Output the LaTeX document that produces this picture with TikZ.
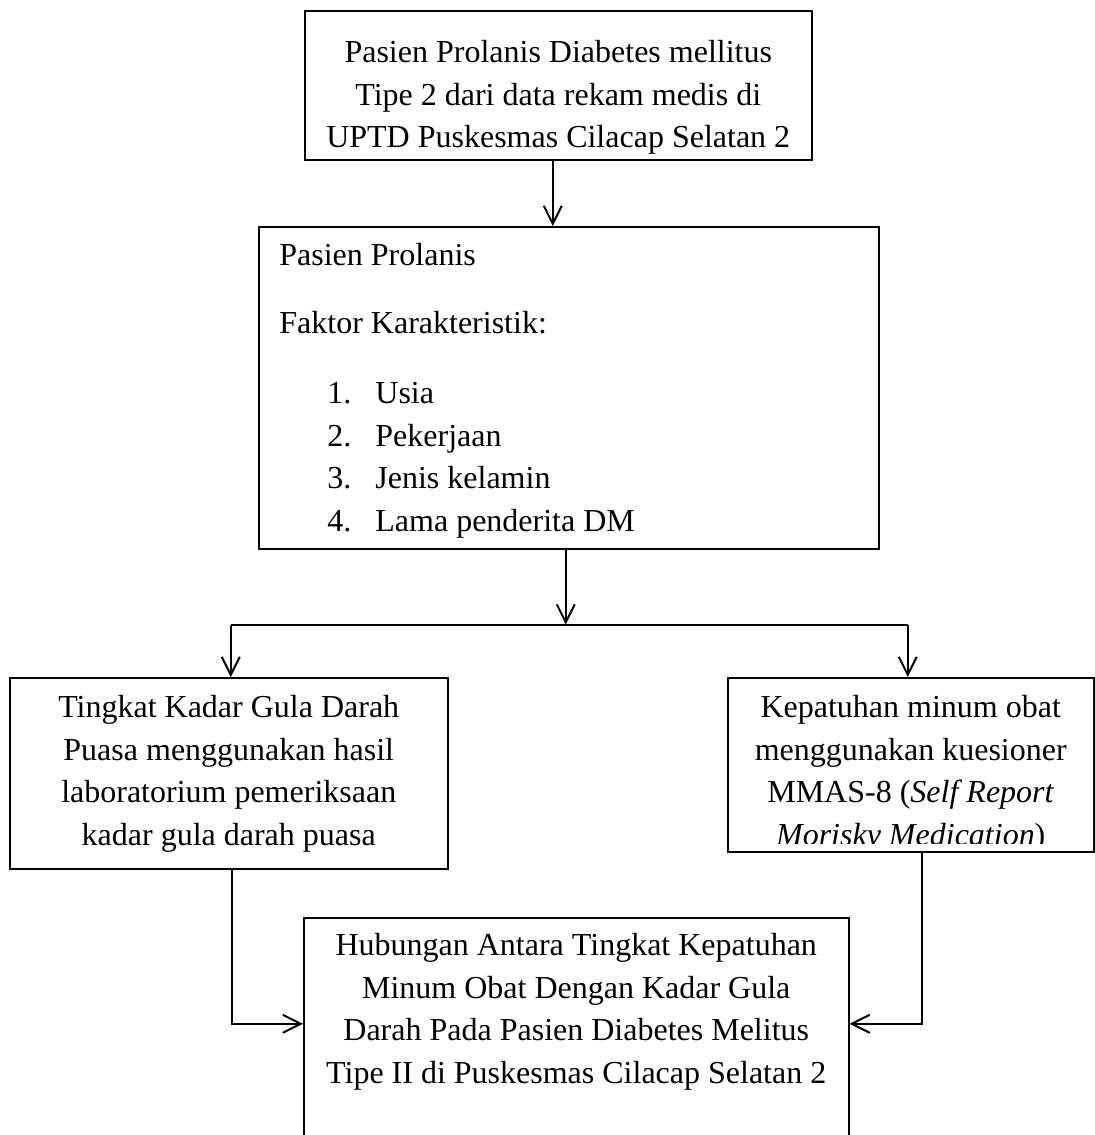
\documentclass[tikz,border=0pt]{standalone}
\usepackage{fontspec}
\setmainfont{Liberation Serif}
\usetikzlibrary{positioning}
\usetikzlibrary{arrows.meta}
\tikzset{
    % Open arrow heads, as drawn by the word processor
    >={Straight Barb[length=9pt,width=9pt]},
%
    % Plain outlined box, sized by hand
    plain box/.style={draw, line width=0.75pt, inner sep=0, anchor=north west},
%
    % Body text inside the boxes
    box text/.style={inner sep=0, font=\fontsize{16pt}{21.25pt}\selectfont},
%
    % Connecting lines between the boxes
    flow line/.style={line width=1pt}}

\newcommand{\faktoritem}[2]{\hspace*{24pt}\makebox[24pt][l]{#1.}#2}

\begin{document}
\begin{tikzpicture}[x=0.5pt, y=-0.5pt]

\clip (0,0) rectangle (1095,1135);

% Boxes

\node [plain box, minimum width=253.5pt, minimum height=74.5pt] (title) at (304,10) {};
\node [plain box, minimum width=310pt, minimum height=161pt] (char) at (258,226) {};
\node [plain box, minimum width=219pt, minimum height=95.5pt] (gula) at (9,677) {};
\node [plain box, minimum width=183pt, minimum height=87pt] (patuh) at (727,677) {};
\node [plain box, minimum width=272.5pt, minimum height=110pt] (hubungan) at (303,917) {};

% Texts

\node [box text, align=center, below=15pt of title.north] (titletext) {
    Pasien Prolanis Diabetes mellitus\\
    Tipe 2 dari data rekam medis di\\
    UPTD Puskesmas Cilacap Selatan 2};

\node [box text, align=left, below right=8.5pt and 10.5pt of char.north west] (chartext) {
    Pasien Prolanis\\[12.75pt]
    Faktor Karakteristik:\\[13.75pt]
    \faktoritem{1}{Usia}\\
    \faktoritem{2}{Pekerjaan}\\
    \faktoritem{3}{Jenis kelamin}\\
    \faktoritem{4}{Lama penderita DM}};

\node [box text, align=center, below=9pt of gula.north] (gulatext) {
    Tingkat Kadar Gula Darah\\
    Puasa menggunakan hasil\\
    laboratorium pemeriksaan\\
    kadar gula darah puasa};

\begin{scope}
\clip (patuh.north west) rectangle ([yshift=4.5pt]patuh.south east);
\node [box text, align=center, below=9pt of patuh.north] (patuhtext) {
    Kepatuhan minum obat\\
    menggunakan kuesioner\\
    MMAS-8 (\textit{Self Report}\\
    \textit{Morisky Medication})};
\end{scope}

\node [box text, align=center, below=8pt of hubungan.north] (hubtext) {
    Hubungan Antara Tingkat Kepatuhan\\
    Minum Obat Dengan Kadar Gula\\
    Darah Pada Pasien Diabetes Melitus\\
    Tipe II di Puskesmas Cilacap Selatan 2};

% Connectors

\coordinate (fork) at ([xshift=-1.5pt, yshift=-37.5pt]char.south);

\draw [flow line, ->] ([xshift=-2.75pt]title.south) -- ([xshift=-2.75pt]title.south |- char.north);
\draw [flow line, ->] ([xshift=-1.5pt]char.south) -- (fork);
\draw [flow line] ([xshift=1pt]gula.north |- fork) -- ([xshift=-1.5pt]patuh.north |- fork);
\draw [flow line, ->] ([xshift=1pt]gula.north |- fork) -- ([xshift=1pt]gula.north);
\draw [flow line, ->] ([xshift=-1.5pt]patuh.north |- fork) -- ([xshift=-1.5pt]patuh.north);
\draw [flow line, ->] ([xshift=1.5pt]gula.south) |- ([yshift=2pt]hubungan.west);
\draw [flow line, ->] ([xshift=5.5pt]patuh.south) |- ([yshift=2pt]hubungan.east);

\end{tikzpicture}
\end{document}
